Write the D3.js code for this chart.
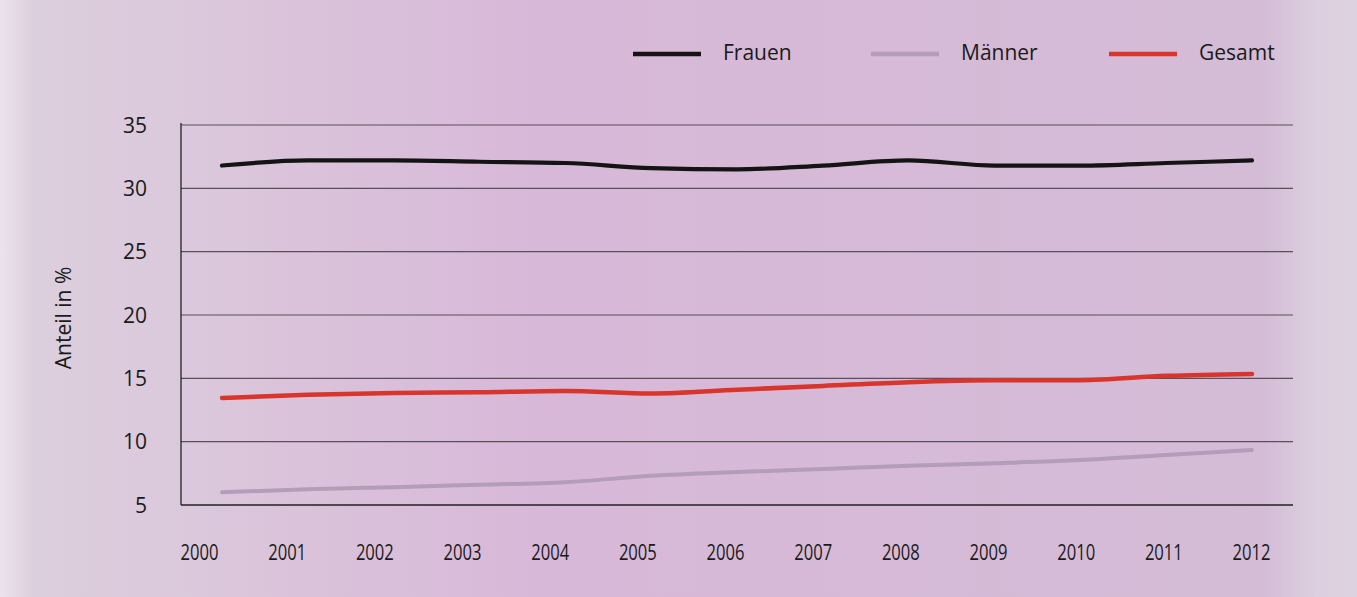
<!DOCTYPE html>
<html><head><meta charset="utf-8">
<script src="https://cdn.jsdelivr.net/npm/d3@7"></script>
<style>
html,body{margin:0;padding:0;}
svg{display:block;}
text{font-family:"Open Sans","Noto Sans",sans-serif;fill:#1a1a1a;}
</style></head>
<body>
<svg id="chart" width="1357" height="597"></svg>
<script>
const years = [2000,2001,2002,2003,2004,2005,2006,2007,2008,2009,2010,2011,2012];
const frauen = [31.8,32.2,32.2,32.1,32.0,31.6,31.5,31.8,32.2,31.8,31.8,32.0,32.2];
const maenner = [6.0,6.25,6.4,6.6,6.8,7.3,7.6,7.85,8.1,8.3,8.55,8.95,9.35];
const gesamt = [13.45,13.7,13.85,13.9,14.0,13.8,14.1,14.4,14.7,14.85,14.85,15.2,15.35];
const yTicks = [5,10,15,20,25,30,35];
const seriesNames = ["Frauen","Männer","Gesamt"];
const seriesColors = ["#141414","#b39db8","#d8352c"];
const yLabel = "Anteil in %";

const svg = d3.select("#chart");
const defs = svg.append("defs");
const grad = defs.append("linearGradient").attr("id","bg").attr("x1","0").attr("x2","1").attr("y1","0").attr("y2","0");
grad.append("stop").attr("offset","0").attr("stop-color","#ebe3ec");
grad.append("stop").attr("offset","0.025").attr("stop-color","#dccfdd");
grad.append("stop").attr("offset","0.4").attr("stop-color","#d8b8d8");
grad.append("stop").attr("offset","0.93").attr("stop-color","#d4bcd6");
grad.append("stop").attr("offset","0.97").attr("stop-color","#dccfdf");
grad.append("stop").attr("offset","1").attr("stop-color","#ddd2e0");
svg.append("rect").attr("width",1357).attr("height",597).attr("fill","url(#bg)");

const x0 = 181, x1 = 1293, yTop = 125, yBot = 505;
const y = d3.scaleLinear().domain([5,35]).range([yBot,yTop]);
const xData = d3.scalePoint().domain(years).range([222,1252]);
const xLab = d3.scalePoint().domain(years).range([199,1251]);

// gridlines
svg.append("g").selectAll("line").data(yTicks).join("line")
  .attr("x1",x0).attr("x2",x1).attr("y1",d=>y(d)).attr("y2",d=>y(d))
  .attr("stroke",d=>d===5?"#222":"#5a4f5c").attr("stroke-width",d=>d===5?1.4:1.1);
// y axis line
svg.append("line").attr("x1",x0).attr("x2",x0).attr("y1",yTop-2).attr("y2",yBot)
  .attr("stroke","#222").attr("stroke-width",1.3);

// y axis labels
const yAxis = d3.axisLeft(y).tickValues(yTicks).tickSize(0).tickPadding(0);
const gy = svg.append("g").attr("transform",`translate(147,0)`).call(yAxis);
gy.select(".domain").remove();
gy.selectAll("text").style("font-size","21px").style("font-family","'Open Sans',sans-serif")
  .attr("fill","#1a1a1a").attr("dy","0.34em");

// x axis labels (condensed look)
const xAxis = d3.axisBottom(xLab).tickSize(0).tickPadding(0);
const gx = svg.append("g").attr("transform",`translate(0,545)`).call(xAxis);
gx.select(".domain").remove();
gx.selectAll("text").style("font-size","21px").style("font-weight","500")
  .style("font-family","'Open Sans',sans-serif")
  .attr("transform","scale(0.79,1)")
  .attr("fill","#1a1a1a").attr("dy","0.71em");

// y label
svg.append("text").attr("transform","translate(64,318) rotate(-90)")
  .attr("text-anchor","middle").attr("dy","0.35em").style("font-size","21px").text(yLabel);

// lines
const line = d3.line().x((d,i)=>xData(years[i])).y(d=>y(d)).curve(d3.curveMonotoneX);
const data = [frauen,maenner,gesamt];
const order = [1,2,0];
order.forEach(k=>{
  svg.append("path").datum(data[k]).attr("d",line).attr("fill","none")
    .attr("stroke",seriesColors[k]).attr("stroke-width",k===1?4:(k===0?4.2:4.5)).attr("stroke-linecap","round");
});

// legend
const legX = [633,871,1109];
const legTextX = [723,961,1199];
seriesNames.forEach((n,i)=>{
  svg.append("line").attr("x1",legX[i]).attr("x2",legX[i]+68).attr("y1",54).attr("y2",54)
    .attr("stroke",seriesColors[i]).attr("stroke-width",4.5);
  svg.append("text").attr("x",legTextX[i]).attr("y",53).attr("dy","0.35em")
    .style("font-size","21px").text(n);
});
</script>
</body></html>
